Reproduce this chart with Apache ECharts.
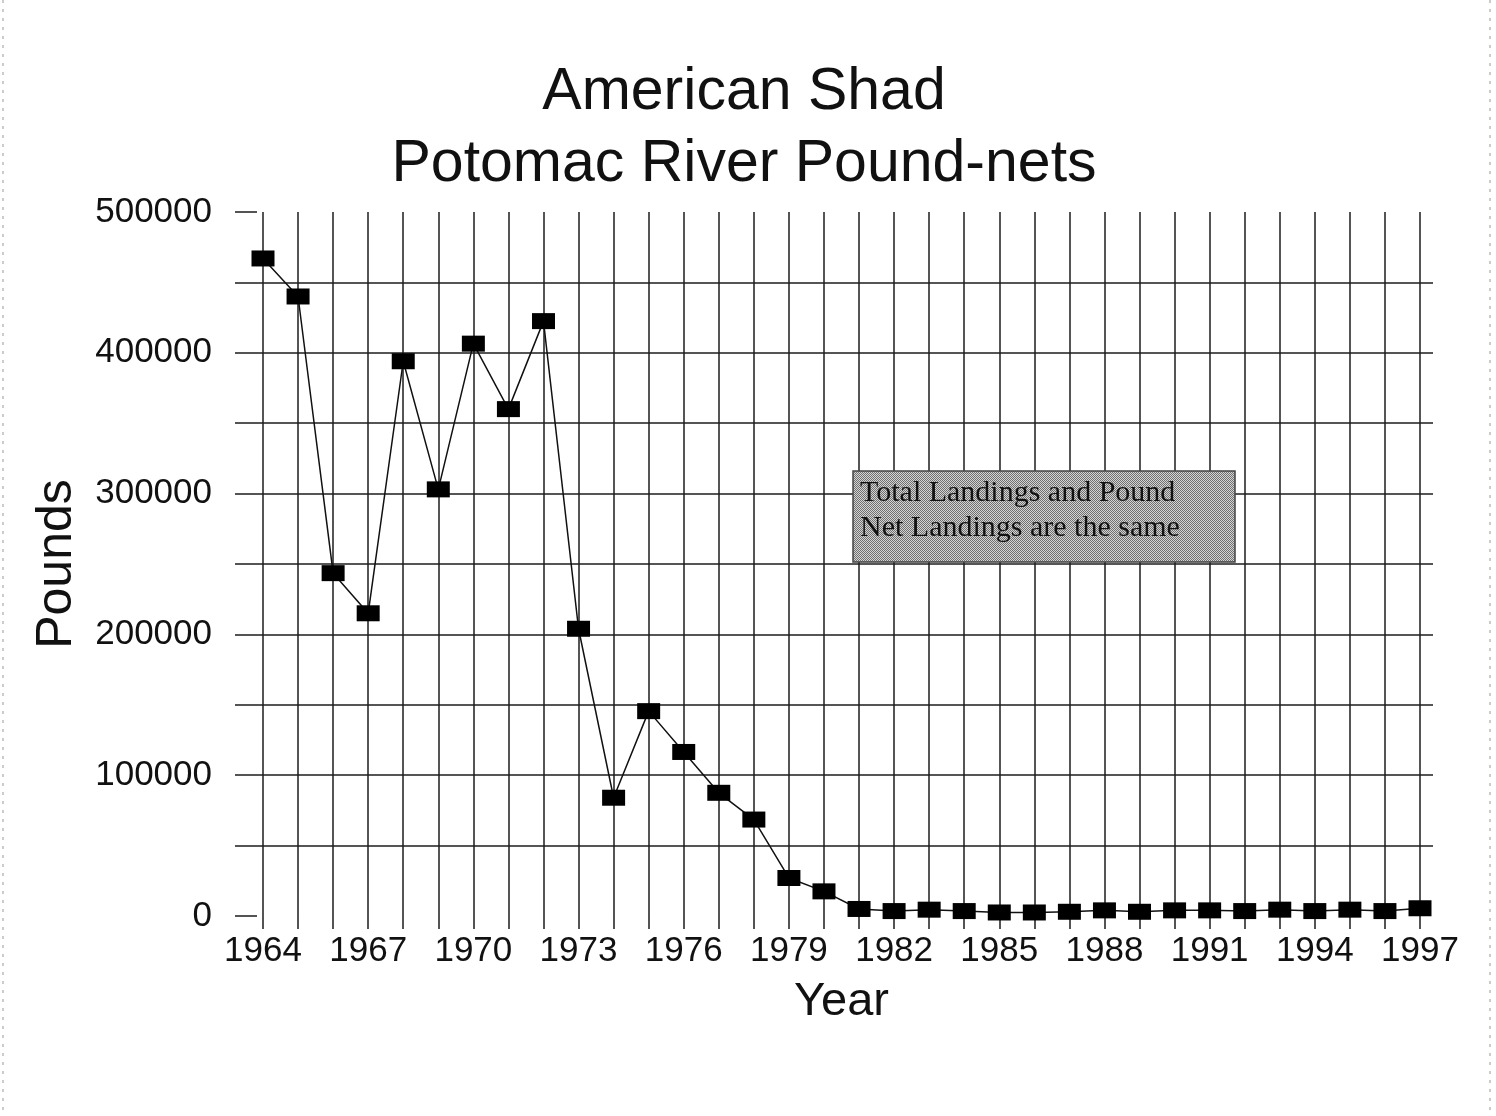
<!DOCTYPE html>
<html>
<head>
<meta charset="utf-8">
<script src="https://cdn.jsdelivr.net/npm/echarts@6/dist/echarts.min.js"></script>
<style>
html,body{margin:0;padding:0;background:#fff;}
#chart{width:1496px;height:1116px;}
</style>
</head>
<body>
<div id="chart"></div>
<script>
const titleLines = ['American Shad', 'Potomac River Pound-nets'];
const years = ['1964','1965','1966','1967','1968','1969','1970','1971','1972','1973','1974','1975','1976','1977','1978','1979','1980','1981','1982','1983','1984','1985','1986','1987','1988','1989','1990','1991','1992','1993','1994','1995','1996','1997'];
const pounds = [467000,440000,243500,215000,394000,303000,406500,360000,422500,204000,84000,145500,116500,87500,68500,27000,17500,5000,3500,4500,3500,2500,2500,3000,4000,3000,4000,4000,3500,4500,3500,4500,3500,5500];
const yTicks = [0,100000,200000,300000,400000,500000];
const noteLines = ['Total Landings and Pound', 'Net Landings are the same'];

// checker pattern for the note box
const pc = document.createElement('canvas');
pc.width = 4; pc.height = 4;
const pctx = pc.getContext('2d');
pctx.fillStyle = '#d4d4d4'; pctx.fillRect(0,0,4,4);
pctx.fillStyle = '#707070';
pctx.fillRect(0,0,1,1); pctx.fillRect(2,0,1,1); pctx.fillRect(1,1,1,1); pctx.fillRect(3,1,1,1);
pctx.fillRect(0,2,1,1); pctx.fillRect(2,2,1,1); pctx.fillRect(1,3,1,1); pctx.fillRect(3,3,1,1);

const chart = echarts.init(document.getElementById('chart'));
const lineCol = '#1c1c1c';
chart.setOption({
  backgroundColor: '#ffffff',
  animation: false,
  title: {
    text: titleLines.join('\n'),
    left: 744, top: 57, textAlign: 'center', padding: 0,
    textStyle: {fontFamily: 'Liberation Sans', fontSize: 59, fontWeight: 'normal', color: '#111', lineHeight: 72}
  },
  grid: [
    {left: 257, right: 63, top: 212, bottom: 200},
    {left: 263, right: 76, top: 212, bottom: 200}
  ],
  xAxis: [
    {gridIndex: 0, type: 'value', min: 0, max: 1, show: false},
    {gridIndex: 1, type: 'category', data: years, boundaryGap: false,
     name: 'Year', nameLocation: 'middle', nameGap: 63,
     nameTextStyle: {fontFamily: 'Liberation Sans', fontSize: 47, color: '#111'},
     axisLine: {show: false},
     axisTick: {show: true, length: 13, interval: 0, lineStyle: {color: lineCol, width: 1.5}},
     axisLabel: {interval: 2, margin: 18, fontFamily: 'Liberation Sans', fontSize: 35, color: '#111'},
     splitLine: {show: true, interval: 0, lineStyle: {color: lineCol, width: 1.5}}
    }
  ],
  yAxis: [
    {gridIndex: 0, type: 'value', min: 0, max: 500000, interval: 50000,
     name: 'Pounds', nameLocation: 'middle', nameGap: 175, nameRotate: 90,
     nameTextStyle: {fontFamily: 'Liberation Sans', fontSize: 50, color: '#111'},
     axisLine: {show: false},
     axisTick: {show: true, length: 22, lineStyle: {color: lineCol, width: 1.5}},
     axisLabel: {margin: 45, fontFamily: 'Liberation Sans', fontSize: 35, color: '#111',
       formatter: v => (yTicks.indexOf(v) >= 0 ? String(v) : '')},
     splitLine: {show: true, showMinLine: false, showMaxLine: false, lineStyle: {color: lineCol, width: 1.5}}
    },
    {gridIndex: 1, type: 'value', min: 0, max: 500000, show: false, splitLine: {show: false}}
  ],
  series: [{
    type: 'line', xAxisIndex: 1, yAxisIndex: 1, data: pounds,
    symbol: 'rect', symbolSize: [23, 16], showAllSymbol: true,
    itemStyle: {color: '#000'},
    lineStyle: {color: '#111', width: 1.5},
    z: 5
  }],
  graphic: [
    {type: 'line', shape: {x1: 3, y1: 0, x2: 3, y2: 1116}, style: {stroke: '#999', lineWidth: 1, lineDash: [3, 6]}},
    {type: 'line', shape: {x1: 1490, y1: 0, x2: 1490, y2: 1116}, style: {stroke: '#999', lineWidth: 1, lineDash: [3, 6]}},
    {type: 'rect', shape: {x: 853, y: 471, width: 382, height: 91}, z: 10,
     style: {fill: {image: pc, repeat: 'repeat'}, stroke: '#444', lineWidth: 1.5}},
    {type: 'text', left: 860, top: 476, z: 11,
     style: {text: noteLines.join('\n'), font: '30px "Liberation Serif"', lineHeight: 35, fill: '#111'}}
  ]
});
</script>
</body>
</html>
